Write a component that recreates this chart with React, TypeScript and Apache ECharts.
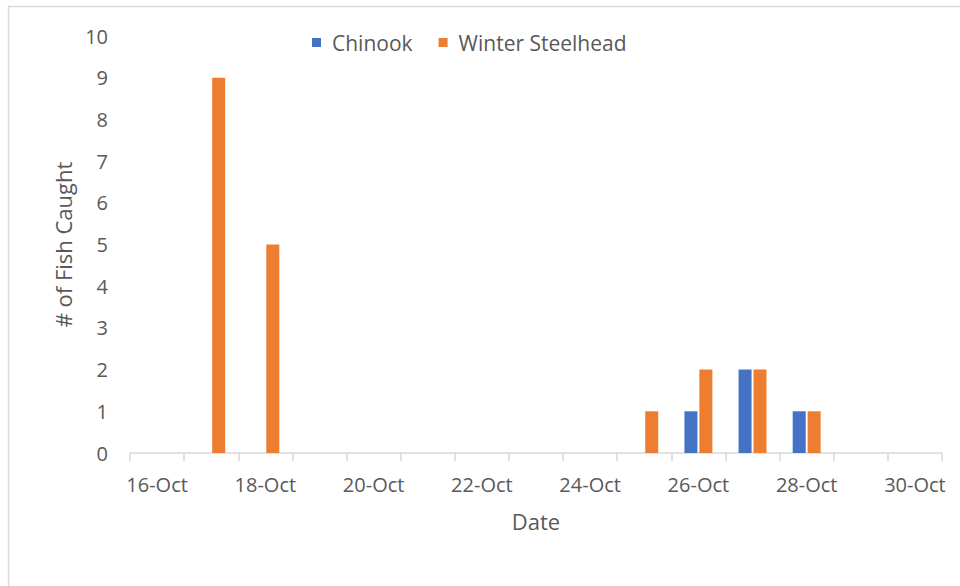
import React, { useEffect, useRef } from "react";
import * as echarts from "echarts";

const categories = [
  "16-Oct", "17-Oct", "18-Oct", "19-Oct", "20-Oct", "21-Oct", "22-Oct", "23-Oct",
  "24-Oct", "25-Oct", "26-Oct", "27-Oct", "28-Oct", "29-Oct", "30-Oct",
];
const chinook = [null, null, null, null, null, null, null, null, null, null, 1, 2, 1, null, null];
const winterSteelhead = [null, 9, 5, null, null, null, null, null, null, 1, 2, 2, 1, null, null];
const yTicks = { min: 0, max: 10, interval: 1 };

const FONT = "'Open Sans', 'Noto Sans', sans-serif";
const TEXT = "#595959";

export default function App() {
  const ref = useRef<HTMLDivElement>(null);
  useEffect(() => {
    document.body.style.margin = "0";
    const chart = echarts.init(ref.current!, null, { renderer: "svg" });
    chart.setOption({
      animation: false,
      backgroundColor: "#ffffff",
      textStyle: { fontFamily: FONT, color: TEXT },
      graphic: [
        {
          type: "rect",
          shape: { x: 8.5, y: 6.5, width: 1000, height: 1000 },
          style: { fill: "none", stroke: "#d9d9d9", lineWidth: 1.5 },
          silent: true,
        },
      ],
      legend: {
        left: 307,
        top: 27,
        icon: "rect",
        itemWidth: 9,
        itemHeight: 9,
        itemGap: 26,
        textStyle: { fontFamily: FONT, fontSize: 21, color: TEXT, padding: [0, 0, 0, 6] },
        data: ["Chinook", "Winter Steelhead"],
      },
      grid: { left: 130, right: 18, top: 36, bottom: 133, containLabel: false },
      xAxis: {
        type: "category",
        data: categories,
        name: "Date",
        nameLocation: "middle",
        nameGap: 57,
        nameTextStyle: { fontFamily: FONT, fontSize: 22, color: TEXT },
        axisLine: { lineStyle: { color: "#d9d9d9", width: 1.5 } },
        axisTick: { show: true, interval: 0, length: 8, lineStyle: { color: "#d9d9d9", width: 1.5 } },
        axisLabel: { interval: 1, margin: 21, fontFamily: FONT, fontSize: 20, color: TEXT },
        splitLine: { show: false },
      },
      yAxis: {
        type: "value",
        min: yTicks.min,
        max: yTicks.max,
        interval: yTicks.interval,
        name: "# of Fish Caught",
        nameLocation: "middle",
        nameGap: 56,
        nameTextStyle: { fontFamily: FONT, fontSize: 22, color: TEXT },
        axisLine: { show: false },
        axisTick: { show: false },
        axisLabel: { margin: 22, fontFamily: FONT, fontSize: 20, color: TEXT },
        splitLine: { show: false },
      },
      series: [
        {
          name: "Chinook",
          type: "bar",
          data: chinook,
          barWidth: 13,
          barGap: "15%",
          itemStyle: { color: "#4472C4" },
        },
        {
          name: "Winter Steelhead",
          type: "bar",
          data: winterSteelhead,
          barWidth: 13,
          barGap: "15%",
          itemStyle: { color: "#ED7D31" },
        },
      ],
    });
    return () => chart.dispose();
  }, []);
  return <div ref={ref} style={{ width: 960, height: 586 }} />;
}
